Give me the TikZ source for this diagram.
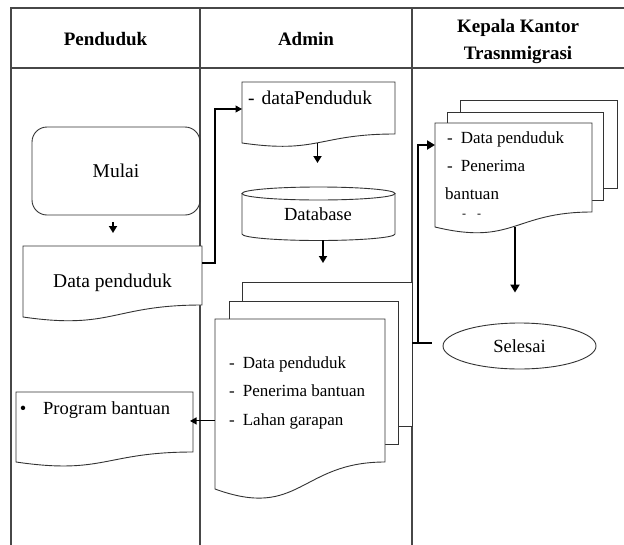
\documentclass[tikz,border=0pt]{standalone}
\usepackage{fontspec}
\setmainfont{Liberation Serif}
\usetikzlibrary{arrows.meta,calc,shapes.geometric}

\tikzset{
  gridline/.style={draw=black!72, line width=1.3pt},
  shapeline/.style={draw=black!80, line width=0.9pt, fill=white},
  arr/.style={-{Triangle[length=7pt,width=8pt]}, line width=1.7pt},
  thinarr/.style={-{Triangle[length=6.5pt,width=7pt]}, line width=1.1pt},
  bigarr/.style={-{Triangle[length=8pt,width=9pt]}, line width=2pt},
  hdr/.style={font=\bfseries\fontsize{19}{22}\selectfont, inner sep=0pt, anchor=base},
  txt/.style={font=\fontsize{19.5}{22}\selectfont, inner sep=0pt},
  stxt/.style={font=\fontsize{17}{20}\selectfont, inner sep=0pt, anchor=base west},
  area/.style={inner sep=0pt, outer sep=0pt, anchor=north west}
}

% L T R yr yl yc
\newcommand{\docshape}[6]{%
  \draw[shapeline] (#1,#5) -- (#1,#2) -- (#3,#2) -- (#3,#4)
    .. controls ({(#1+#3)/2},#4) and ({(#1+#3)/2},#6) .. (#1,#5) -- cycle;}

\begin{document}
\begin{tikzpicture}[x=1pt,y=-1pt]
\useasboundingbox (0,0) rectangle (624,544);

% ---------- table ----------
\draw[gridline] (11,546) -- (11,8) -- (626,8);
\draw[gridline] (11,68) -- (626,68);
\draw[gridline] (200,8) -- (200,546);
\draw[gridline] (412,8) -- (412,546);

\node[hdr] (h1) at (105.5,45) {Penduduk};
\node[hdr] (h2) at (306,45) {Admin};
\node[hdr] (h3a) at (518,32) {Kepala Kantor};
\node[hdr] (h3b) at (518,59) {Trasnmigrasi};

% ---------- Penduduk ----------
\node[draw=black!80, line width=0.9pt, rounded corners=15pt, minimum width=168pt,
      minimum height=88pt, inner sep=0pt, font=\fontsize{19.5}{22}\selectfont] (mulai) at (116,171) {Mulai};

\docshape{23}{246}{202}{305}{317}{330}
\node[area, minimum width=179pt, minimum height=59pt] (dp) at (23,246) {};
\node[txt, anchor=base] (dpt) at (112.5,287) {Data penduduk};

\docshape{16}{392}{193}{452}{462}{475}
\node[area, minimum width=177pt, minimum height=60pt] (pb) at (16,392) {};
\node[txt, anchor=base, font=\fontsize{18.5}{21}\selectfont] (pbb) at (23,414) {\textbullet};
\node[txt, anchor=base west, font=\fontsize{18.5}{21}\selectfont] (pbt) at (43,414) {Program bantuan};

% ---------- Admin ----------
\docshape{242}{82}{395}{134}{143}{154}
\node[area, minimum width=153pt, minimum height=52pt] (dpa) at (242,82) {};
\node[txt, anchor=base west] (dpat) at (248,104) {-\hspace{7pt}dataPenduduk};

\node[area, minimum width=153pt, minimum height=53pt] (db) at (242,187) {};
\draw[shapeline] (242,193.5) -- (242,234)
   arc[start angle=180, end angle=360, x radius=76.5pt, y radius=6.5pt] -- (395,193.5) -- cycle;
\draw[shapeline] (318.5,193.5) ellipse [x radius=76.5pt, y radius=6.5pt];
\node[txt, anchor=base, font=\fontsize{18.5}{21}\selectfont] (dbt) at (318,220) {Database};

\draw[shapeline] (242,282) rectangle (412,426);
\node[area, minimum width=170pt, minimum height=144pt] (as3) at (242,282) {};
\draw[shapeline] (229,301) rectangle (398,444);
\node[area, minimum width=169pt, minimum height=143pt] (as2) at (229,301) {};
\docshape{215}{319}{385}{462}{489}{520}
\node[area, minimum width=170pt, minimum height=143pt] (as1) at (215,319) {};
\node[stxt] (a1) at (229,368) {-\hspace{8pt}Data penduduk};
\node[stxt] (a2) at (229,396) {-\hspace{8pt}Penerima bantuan};
\node[stxt] (a3) at (229,425) {-\hspace{8pt}Lahan garapan};

% ---------- Kepala ----------
\draw[shapeline] (460,100) rectangle (617,188);
\node[area, minimum width=157pt, minimum height=88pt] (ks3) at (460,100) {};
\draw[shapeline] (447,112) rectangle (603,200);
\node[area, minimum width=156pt, minimum height=88pt] (ks2) at (447,112) {};
\docshape{435}{123}{592}{212}{227}{246}
\node[area, minimum width=157pt, minimum height=89pt] (ks1) at (435,123) {};
\node[stxt] (k1) at (447,143) {-\hspace{8pt}Data penduduk};
\node[stxt] (k2) at (447,171) {-\hspace{8pt}Penerima};
\node[stxt] (k3) at (445,199) {bantuan};
\node[stxt, font=\fontsize{12}{14}\selectfont] (k4) at (462,217) {-\hspace{11pt}-};

\node[draw=black!80, line width=0.9pt, ellipse, minimum width=153pt, minimum height=46pt,
      inner sep=0pt, font=\fontsize{18.5}{21}\selectfont] (sel) at (519.5,346) {Selesai};

% ---------- connectors ----------
\draw[arr, shorten <=7pt, shorten >=13pt] (mulai.south -| 113,0) -- (dp.north -| 113,0);
\draw[thinarr] ([yshift=-17pt]dp.north east) -| (215,109) -- ([yshift=-27pt]dpa.north west);
\draw[arr, shorten <=9pt, shorten >=24pt] ([xshift=-1pt]dpa.south) -- ([xshift=-1pt]db.north);
\draw[arr, shorten >=19pt] ([xshift=4.5pt]db.south) -- ([xshift=4.5pt]db.south |- as3.north);
\draw[thinarr, shorten >=-3pt] (as1.west |- a3) -- (pb.east |- a3);
\coordinate (kstart) at (412,343);
\draw[line width=1.8pt] (kstart) -- (432,343);
\draw[bigarr] (418,343) -- (418,145) -- ([yshift=-22pt]ks1.north west);
\draw[bigarr, shorten <=14.6pt, shorten >=30pt] ([xshift=1.5pt]ks1.south) -- ([xshift=1.5pt]ks1.south |- sel.north);

\end{tikzpicture}
\end{document}
